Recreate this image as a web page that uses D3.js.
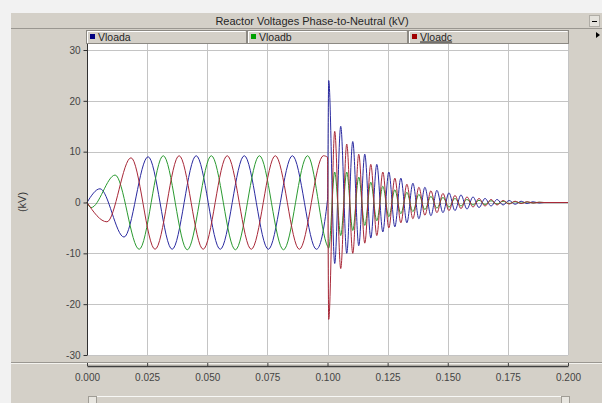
<!DOCTYPE html>
<html>
<head>
<meta charset="utf-8">
<title>Reactor Voltages Phase-to-Neutral (kV)</title>
<script src="https://cdn.jsdelivr.net/npm/d3@7/dist/d3.min.js"></script>
<style>
  body { margin: 0; background: #f2f2f2; }
  svg { display: block; font-family: "Liberation Sans", Arial, sans-serif; }
</style>
</head>
<body>
<script>
    // series names and colours as shown in the legend
    var seriesNames = ["Vloada", "Vloadb", "Vloadc"];
    var seriesColors = ["#2a2aa0", "#2a9a30", "#a82838"];
    var legendColors = ["#000080", "#00a000", "#a00000"];

    // pre-fault part: start point, peaks / troughs, value at t = 0.1 s
    var preTimesA = [0, 0.0054, 0.0154, 0.0254, 0.0354, 0.0454, 0.0554, 0.0654, 0.0754, 0.0854, 0.0954, 0.1];
    var preA      = [0, 2.7, -6.8, 9.0, -9.2, 9.2, -9.2, 9.2, -9.2, 9.2, -9.2, 0.5];
    var preTimesB = [0, 0.0017, 0.0117, 0.0217, 0.0317, 0.0417, 0.0517, 0.0617, 0.0717, 0.0817, 0.0917, 0.1];
    var preB      = [0, -1.0, 5.4, -9.2, 9.2, -9.3, 9.2, -9.3, 9.2, -9.3, 9.2, -8.6];
    var preTimesC = [0, 0.0083, 0.0183, 0.0283, 0.0383, 0.0483, 0.0583, 0.0683, 0.0783, 0.0883, 0.0983, 0.1];
    var preC      = [0, -3.8, 8.8, -9.2, 9.2, -9.2, 9.2, -9.2, 9.2, -9.2, 9.2, 8.9];

    // post-fault ringing: extrema of each phase (kV)
    var postTimes = [0.1005, 0.103, 0.1055, 0.108, 0.1105, 0.113, 0.1155, 0.118, 0.1205, 0.123,
                     0.1255, 0.128, 0.1305, 0.133, 0.1355, 0.138, 0.1405, 0.143, 0.1455, 0.148,
                     0.1505, 0.153, 0.1555, 0.158, 0.1605, 0.163, 0.1655, 0.168, 0.1705, 0.173,
                     0.1755, 0.178, 0.1805, 0.183, 0.1855, 0.188, 0.19, 0.2];
    var postA = [24, -12, 15, -10, 12, -8.5, 9.5, -7, 7.5, -5.8, 6, -4.8, 4.8, -4, 3.8, -3.2, 3, -2.6, 2.4, -2,
                 1.9, -1.6, 1.5, -1.3, 1.1, -1, 0.8, -0.7, 0.6, -0.5, 0.4, -0.35, 0.25, -0.2, 0.15, -0.1, 0, 0];
    var postB = [-9, 6, -6.5, 6, -5.5, 5, -4.5, 4, -3.6, 3.2, -2.8, 2.5, -2.2, 2, -1.8, 1.6, -1.4, 1.2, -1.1, 1,
                 -0.9, 0.8, -0.7, 0.6, -0.5, 0.45, -0.4, 0.35, -0.3, 0.25, -0.2, 0.15, -0.12, 0.1, -0.08, 0.05, 0, 0];
    var postC = [-23, 14, -13, 11.5, -10, 9.5, -8, 7.5, -6.5, 6, -5, 4.8, -4, 3.6, -3.2, 3, -2.5, 2.3, -2, 1.8,
                 -1.6, 1.4, -1.2, 1.1, -0.9, 0.8, -0.7, 0.6, -0.5, 0.4, -0.3, 0.25, -0.2, 0.15, -0.1, 0.05, 0, 0];

    var xTicks = [0, 0.025, 0.05, 0.075, 0.1, 0.125, 0.15, 0.175, 0.2];
    var yTicks = [-30, -20, -10, 0, 10, 20, 30];

    var width = 602, height = 403;
    var panel = "#d4d0c8";

    var x = d3.scaleLinear().domain([0, 0.2]).range([87, 568]);
    var y = d3.scaleLinear().domain([-30, 30]).range([355, 50]);

    function join(ts, vs, ts2, vs2) {
        var pts = ts.map(function(t, i) { return {t: t, v: vs[i]}; });
        return pts.concat(ts2.map(function(t, i) { return {t: t, v: vs2[i]}; }));
    }
    var series = [
        join(preTimesA, preA, postTimes, postA),
        join(preTimesB, preB, postTimes, postB),
        join(preTimesC, preC, postTimes, postC)
    ];

    var svg = d3.select("body").append("svg")
        .attr("width", width).attr("height", height);

    // window panel
    svg.append("rect").attr("x", 11).attr("y", 13).attr("width", width - 11).attr("height", height - 13)
        .attr("fill", panel);

    // title bar
    svg.append("line").attr("x1", 11).attr("x2", width).attr("y1", 28.5).attr("y2", 28.5).attr("stroke", "#9a9791");
    svg.append("text").attr("x", 312).attr("y", 25).attr("text-anchor", "middle")
        .attr("font-size", 11).attr("fill", "#262626").text("Reactor Voltages Phase-to-Neutral (kV)");
    svg.append("rect").attr("x", 589.5).attr("y", 15.5).attr("width", 10).attr("height", 11)
        .attr("fill", "#e4e2dc").attr("stroke", "#b0ada6");
    svg.append("line").attr("x1", 592).attr("x2", 597).attr("y1", 21.5).attr("y2", 21.5).attr("stroke", "#000");
    svg.append("path").attr("d", "M596,32 L600,35 L596,38 Z").attr("fill", "#000");

    // legend buttons
    var legendX = d3.scaleBand().domain(seriesNames).range([86, 569]);
    var leg = svg.selectAll("g.leg").data(seriesNames).enter().append("g")
        .attr("class", "leg")
        .attr("transform", function(d) { return "translate(" + legendX(d) + ",30)"; });
    leg.append("rect").attr("x", 0.5).attr("y", 0.5).attr("width", legendX.bandwidth() - 1).attr("height", 13)
        .attr("fill", panel).attr("stroke", "#8c8983");
    leg.append("path").attr("d", "M1.5,13 V1.5 H" + (legendX.bandwidth() - 1.5))
        .attr("fill", "none").attr("stroke", "#ffffff");
    leg.append("rect").attr("x", 4).attr("y", 4).attr("width", 5).attr("height", 5)
        .attr("fill", function(d, i) { return legendColors[i]; });
    leg.append("text").attr("x", 12).attr("y", 10.5).attr("font-size", 10.5).attr("fill", "#262626")
        .attr("text-decoration", function(d, i) { return i === 2 ? "underline" : null; })
        .text(function(d) { return d; });

    // plot area
    svg.append("rect").attr("x", 87).attr("y", 44).attr("width", 481).attr("height", 311).attr("fill", "#ffffff");
    svg.append("line").attr("x1", 568.5).attr("x2", 568.5).attr("y1", 44).attr("y2", 355).attr("stroke", "#a8a8a8");

    svg.append("g").selectAll("line").data(xTicks.slice(1)).enter().append("line")
        .attr("x1", function(d) { return Math.round(x(d)) + 0.5; })
        .attr("x2", function(d) { return Math.round(x(d)) + 0.5; })
        .attr("y1", 44).attr("y2", 355).attr("stroke", "#c4c4c4");
    svg.append("g").selectAll("line").data(yTicks).enter().append("line")
        .attr("x1", 87).attr("x2", 568)
        .attr("y1", function(d) { return Math.round(y(d)) + 0.5; })
        .attr("y2", function(d) { return Math.round(y(d)) + 0.5; })
        .attr("stroke", "#c4c4c4");

    // waveforms
    var line = d3.line()
        .x(function(d) { return x(d.t); })
        .y(function(d) { return y(d.v); })
        .curve(d3.curveMonotoneX);
    svg.append("g").selectAll("path").data(series).enter().append("path")
        .attr("d", line)
        .attr("fill", "none")
        .attr("stroke", function(d, i) { return seriesColors[i]; })
        .attr("stroke-width", 1);

    // y axis
    var yAxis = d3.axisLeft(y).tickValues(yTicks).tickSize(4).tickPadding(3)
        .tickFormat(function(d) { return String(d); });
    var gy = svg.append("g").attr("transform", "translate(87.5,0)").call(yAxis);
    gy.select(".domain").attr("d", "M0,44 V355").attr("stroke", "#303030");
    gy.selectAll(".tick line").attr("stroke", "#303030");
    gy.selectAll(".tick text").attr("font-size", 10).attr("fill", "#444444")
        .attr("font-family", "Liberation Sans, Arial, sans-serif");

    svg.append("text").attr("transform", "translate(26,202) rotate(-90)").attr("text-anchor", "middle")
        .attr("font-size", 11).attr("fill", "#383838").text("(kV)");

    // x axis strip
    svg.append("line").attr("x1", 11).attr("x2", width).attr("y1", 362.5).attr("y2", 362.5).attr("stroke", "#9a9791");
    svg.append("line").attr("x1", 11).attr("x2", width).attr("y1", 363.5).attr("y2", 363.5).attr("stroke", "#f4f3ef");
    var xAxis = d3.axisBottom(x).tickValues(xTicks).tickSizeInner(-3).tickSizeOuter(0).tickPadding(8)
        .tickFormat(d3.format(".3f"));
    var gx = svg.append("g").attr("transform", "translate(0,366)").call(xAxis);
    gx.select(".domain").attr("stroke", "#404040").attr("stroke-width", 1.5);
    gx.selectAll(".tick line").attr("stroke", "#404040");
    gx.selectAll(".tick text").attr("font-size", 10).attr("fill", "#444444")
        .attr("font-family", "Liberation Sans, Arial, sans-serif");

    // scroll bar at the bottom
    svg.append("line").attr("x1", 97).attr("x2", 562).attr("y1", 396.5).attr("y2", 396.5).attr("stroke", "#f8f8f6");
    svg.append("rect").attr("x", 88.5).attr("y", 396.5).attr("width", 8).attr("height", 8)
        .attr("fill", "#e8e6e0").attr("stroke", "#a09d96");
    svg.append("rect").attr("x", 561.5).attr("y", 396.5).attr("width", 8).attr("height", 8)
        .attr("fill", "#e8e6e0").attr("stroke", "#a09d96");
</script>
</body>
</html>
